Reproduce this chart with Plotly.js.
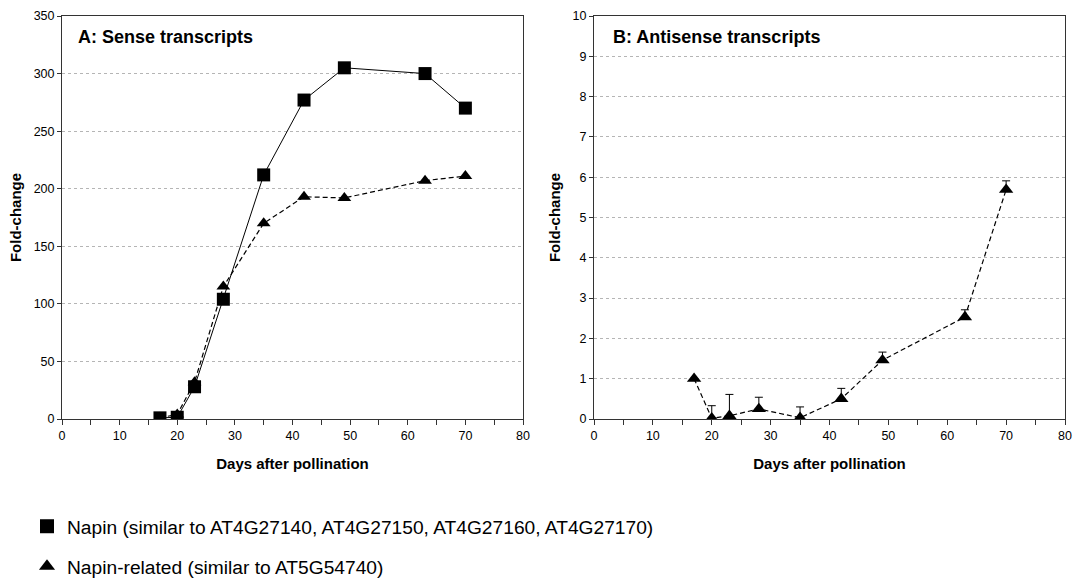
<!DOCTYPE html>
<html>
<head>
<meta charset="utf-8">
<script src="https://cdn.plot.ly/plotly-3.0.1.min.js"></script>
<style>html,body{margin:0;padding:0;background:#fff;}#chart{width:1073px;height:579px;}</style>
</head>
<body>
<div id="chart"></div>
<script>
// ---- data ----
const days = [17, 20, 23, 28, 35, 42, 49, 63, 70];
const senseNapin = [1, 1.5, 28, 104, 212, 277, 305, 300, 270];
const senseNapinRelated = [1, 4, 32, 115, 170, 193, 192, 207, 211];
const antisenseNapinRelated = [1.0, 0.02, 0.08, 0.25, 0.03, 0.5, 1.46, 2.53, 5.69];
const antisenseErrUp = [0, 0.31, 0.53, 0.29, 0.27, 0.26, 0.2, 0.18, 0.22];
const antisenseErrDown = [0, 0, 0, 0, 0, 0, 0, 0, 0];
const legendNapin = 'Napin (similar to AT4G27140, AT4G27150, AT4G27160, AT4G27170)';
const legendNapinRelated = 'Napin-related (similar to AT5G54740)';
const panelATitle = 'A: Sense transcripts';
const panelBTitle = 'B: Antisense transcripts';
const xTitle = 'Days after pollination';
const yTitle = 'Fold-change';

const FONT = '"Liberation Sans", Arial, sans-serif';
const W = 1073, H = 579;

const traces = [
  {x: days, y: senseNapin, xaxis: 'x', yaxis: 'y', mode: 'lines+markers', name: legendNapin,
   line: {color: '#000', width: 1}, marker: {symbol: 'square', size: 13, color: '#000'},
   showlegend: false},
  {x: days, y: senseNapinRelated, xaxis: 'x', yaxis: 'y', mode: 'lines+markers', name: legendNapinRelated,
   line: {color: '#000', width: 1.2, dash: '5px,3px'}, marker: {symbol: 'triangle-up', size: 12, color: '#000'},
   showlegend: false},
  {x: days, y: antisenseNapinRelated, xaxis: 'x2', yaxis: 'y2', mode: 'lines+markers', name: legendNapinRelated,
   line: {color: '#000', width: 1.2, dash: '5px,3px'}, marker: {symbol: 'triangle-up', size: 12.5, color: '#000'},
   error_y: {type: 'data', symmetric: false, array: antisenseErrUp, arrayminus: antisenseErrDown,
             color: '#000', thickness: 1, width: 4},
   showlegend: false},
  // legend entries (markers only, as in the reference)
  {x: [null], y: [null], xaxis: 'x', yaxis: 'y', mode: 'markers', name: legendNapin,
   marker: {symbol: 'square', size: 14, color: '#000'}, legendgroup: 'a', showlegend: true},
  {x: [null], y: [null], xaxis: 'x', yaxis: 'y', mode: 'markers', name: legendNapinRelated,
   marker: {symbol: 'triangle-up', size: 14, color: '#000'}, legendgroup: 'b', showlegend: true}
];

function xax(domain) {
  return {
    domain: domain, range: [0, 80], dtick: 10, tick0: 0,
    ticks: 'outside', ticklen: 5, tickcolor: '#333', tickwidth: 1,
    minor: {dtick: 5, ticks: 'outside', ticklen: 5, tickcolor: '#333'},
    showline: true, linecolor: '#333', linewidth: 1, mirror: true,
    showgrid: false, zeroline: false,
    tickfont: {family: FONT, size: 12.5, color: '#000'},
    title: {text: '<b>' + xTitle + '</b>', font: {family: FONT, size: 15, color: '#000'}, standoff: 16}
  };
}
function yax(range, dtick, anchor) {
  return {
    domain: [0, 1], range: range, dtick: dtick, tick0: 0, anchor: anchor,
    ticks: 'outside', ticklen: 4, tickcolor: '#333',
    showline: true, linecolor: '#333', linewidth: 1, mirror: true,
    showgrid: true, gridcolor: '#b5b5b5', griddash: 'dot', gridwidth: 1,
    zeroline: false,
    tickfont: {family: FONT, size: 12.5, color: '#000'},
    title: {text: '<b>' + yTitle + '</b>', font: {family: FONT, size: 15, color: '#000'}, standoff: 8}
  };
}

const layout = {
  width: W, height: H,
  margin: {l: 0, r: 0, t: 16, b: 160, autoexpand: false},
  paper_bgcolor: '#fff', plot_bgcolor: '#fff',
  font: {family: FONT, color: '#000'},
  xaxis: Object.assign(xax([62 / W, 523 / W]), {anchor: 'y'}),
  yaxis: yax([0, 350], 50, 'x'),
  xaxis2: Object.assign(xax([594 / W, 1065 / W]), {anchor: 'y2'}),
  yaxis2: yax([0, 10], 1, 'x2'),
  showlegend: true,
  legend: {
    x: 27 / W, y: -0.219, xanchor: 'left', yanchor: 'top',
    font: {family: FONT, size: 19.2, color: '#000'},
    tracegroupgap: 12, bgcolor: 'rgba(0,0,0,0)', borderwidth: 0
  },
  annotations: [
    {text: '<b>' + panelATitle + '</b>', xref: 'x domain', yref: 'y domain', x: 0.03, y: 0.948,
     xanchor: 'left', yanchor: 'middle', showarrow: false, font: {family: FONT, size: 18, color: '#000'}},
    {text: '<b>' + panelBTitle + '</b>', xref: 'x2 domain', yref: 'y2 domain', x: 0.036, y: 0.948,
     xanchor: 'left', yanchor: 'middle', showarrow: false, font: {family: FONT, size: 18, color: '#000'}}
  ]
};

Plotly.newPlot('chart', traces, layout, {displayModeBar: false, staticPlot: true});
</script>
</body>
</html>
